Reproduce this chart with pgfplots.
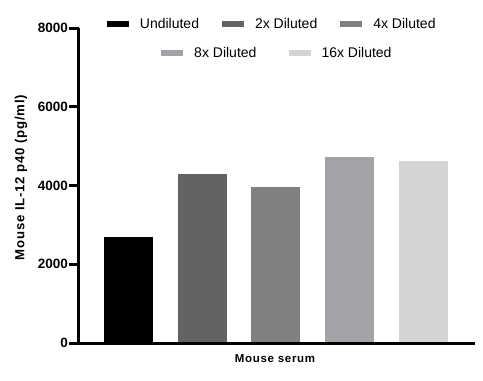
\documentclass[border=0pt]{standalone}
\usepackage{fontspec}
\setmainfont{Liberation Sans}
\newfontfamily\spaced[LetterSpace=6]{Liberation Sans}
\usepackage{pgfplots}
\pgfplotsset{compat=1.18}
\definecolor{cA}{RGB}{0,0,0}
\definecolor{cB}{RGB}{99,99,99}
\definecolor{cC}{RGB}{128,128,128}
\definecolor{cD}{RGB}{163,162,166}
\definecolor{cE}{RGB}{212,212,212}
\pgfplotsset{
  sw/.style={legend image code/.code={\fill[##1] (0pt,-3pt) rectangle (22pt,3pt);}},
  base/.style={scale only axis, width=396pt, height=315pt,
    xmin=-0.67, xmax=4.70, ymin=0, ymax=8000, ybar, bar width=49pt, clip=false,
    legend style={draw=none, fill=none, anchor=center,
      font=\fontsize{14}{16}\selectfont,
      /tikz/every odd column/.append style={column sep=9pt}}},
}
\begin{document}
\begin{tikzpicture}
\begin{axis}[base, hide axis,
  legend columns=2,
  legend style={at={(0.501,0.921)},
    /tikz/every even column/.append style={column sep=30pt}}]
\addplot[fill=cD, draw=none, bar shift=0pt, sw] coordinates {(3,4730)};
\addlegendentry{8x Diluted}
\addplot[fill=cE, draw=none, bar shift=0pt, sw] coordinates {(4,4625)};
\addlegendentry{16x Diluted}
\end{axis}
\begin{axis}[base, axis on top,
  axis x line=bottom, axis y line=left,
  axis line style={-, line width=3pt},
  xtick=\empty,
  ytick={0,2000,4000,6000,8000},
  tick align=outside, major tick length=10pt,
  major tick style={black, line width=3pt},
  y tick label style={font=\fontsize{13.5}{16}\bfseries, inner sep=1pt},
  scaled y ticks=false,
  /pgf/number format/assume math mode=true,
  /pgf/number format/1000 sep={},
  xlabel={\spaced\bfseries\fontsize{11.5}{14}\selectfont Mouse serum},
  xlabel style={at={(axis description cs:0.495,0)}, anchor=north, yshift=-8pt},
  ylabel={\spaced\bfseries\fontsize{13.2}{16}\selectfont Mouse IL-12 p40 (pg/ml)},
  ylabel style={at={(axis description cs:-0.1465,0.525)}, anchor=center, rotate=0},
  legend columns=3,
  legend style={at={(0.488,1.0127)},
    /tikz/every even column/.append style={column sep=21pt}}]
\addplot[fill=cA, draw=none, bar shift=0pt, sw] coordinates {(0,2680)};
\addlegendentry{Undiluted}
\addplot[fill=cB, draw=none, bar shift=0pt, sw] coordinates {(1,4280)};
\addlegendentry{2x Diluted}
\addplot[fill=cC, draw=none, bar shift=0pt, sw] coordinates {(2,3950)};
\addlegendentry{4x Diluted}
\end{axis}
\path (current axis.south west) ++(-79pt,-38pt) rectangle ++(483pt,381pt);
\end{tikzpicture}
\end{document}
